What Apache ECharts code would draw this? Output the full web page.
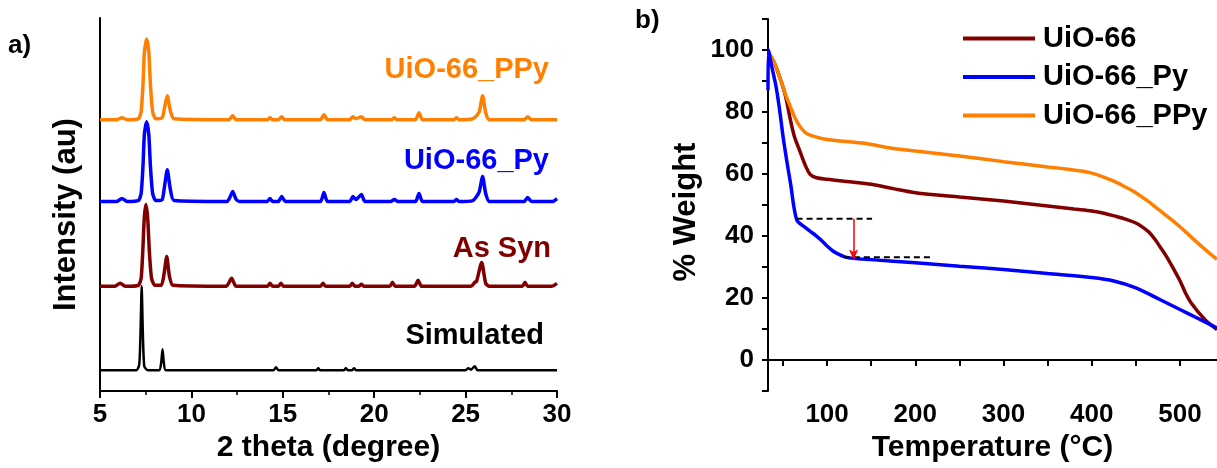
<!DOCTYPE html>
<html><head><meta charset="utf-8">
<script src="https://cdn.jsdelivr.net/npm/echarts@6/dist/echarts.min.js"></script>
<style>html,body{margin:0;padding:0;background:#fff}#c{width:1217px;height:468px}</style>
</head><body><div id="c"></div>
<script>
// ---------- Panel a: XRD (2theta, relative intensity a.u.) ----------
const xrdTicks = [5, 10, 15, 20, 25, 30];
const xrdSimulated = [[5,0],[7.0,0],[7.15,6],[7.22,40],[7.28,84],[7.34,40],[7.42,4],[7.6,0],[8.25,0],[8.35,8],[8.42,21],[8.49,8],[8.6,0],[14.5,0],[14.63,3],[14.76,0],[16.85,0],[16.94,2],[17.03,0],[18.35,0],[18.45,2],[18.55,0],[18.8,0],[18.9,2],[19.0,0],[25.0,0],[25.15,2],[25.3,0.5],[25.5,4],[25.65,0],[30,0]];
const xrdAsSyn = [[5,0],[5.8,0],[6.1,3],[6.4,0],[7.1,1],[7.25,8],[7.34,35],[7.42,68],[7.51,82],[7.61,68],[7.7,35],[7.82,8],[8.0,1],[8.35,1],[8.5,12],[8.65,30],[8.8,10],[9.0,1],[11.9,0],[12.2,8],[12.45,0],[14.15,0],[14.3,3],[14.45,0],[14.75,0],[14.9,3],[15.05,0],[17.05,0],[17.2,3],[17.35,0],[18.65,0],[18.8,3],[18.95,0],[19.15,0],[19.3,2],[19.45,0],[20.85,0],[21.0,4],[21.15,0],[22.2,0],[22.4,6],[22.6,0],[25.3,0],[25.5,4],[25.6,5],[25.88,24],[26.1,3],[26.3,0],[28.1,0],[28.25,4],[28.4,0],[29.7,0],[30,3]];
const xrdPy = [[5,0],[5.9,0],[6.2,3],[6.5,0],[7.1,1],[7.25,8],[7.35,35],[7.43,68],[7.55,80],[7.67,67],[7.76,35],[7.88,8],[8.05,1],[8.4,2],[8.55,18],[8.68,32],[8.85,12],[9.05,1],[11.95,0],[12.1,4],[12.26,10],[12.45,2],[12.65,0],[14.15,0],[14.3,3],[14.45,0],[14.75,0],[14.94,5],[15.15,0],[17.05,0],[17.25,9],[17.45,0],[18.65,0],[18.84,5],[19.0,2],[19.3,7],[19.5,0],[20.9,0],[21.1,2],[21.3,0],[22.25,0],[22.45,8],[22.65,0],[24.35,0],[24.5,2],[24.65,0],[25.4,1],[25.6,5],[25.75,10],[25.93,25],[26.1,8],[26.3,0],[28.2,0],[28.4,4],[28.6,0],[29.75,0],[30,3]];
const xrdPPy = [[5,0],[5.9,0],[6.2,2],[6.5,0],[7.1,1],[7.25,8],[7.35,35],[7.43,68],[7.55,81],[7.67,68],[7.76,35],[7.88,8],[8.05,1],[8.4,2],[8.55,14],[8.68,24],[8.85,9],[9.05,1],[12.05,0],[12.26,4],[12.45,0],[14.15,0],[14.3,2],[14.45,0],[14.75,0],[14.94,3],[15.1,0],[17.05,0],[17.25,5],[17.45,0],[18.65,0],[18.84,3],[19.0,1],[19.3,3],[19.5,0],[20.95,0],[21.1,2],[21.25,0],[22.25,0],[22.45,7],[22.65,0],[24.35,0],[24.5,2],[24.65,0],[25.4,1],[25.6,4],[25.75,8],[25.93,24],[26.1,7],[26.3,0],[28.2,0],[28.4,3],[28.6,0],[30,0]];
// vertical stacking offsets (a.u.)
const offSimulated = 21, offAsSyn = 105, offPy = 190, offPPy = 272;

// ---------- Panel b: TGA (temperature degC, % weight) ----------
const tgaTempLabels = [100, 200, 300, 400, 500];
const tgaTempTicks = [50, 100, 150, 200, 250, 300, 350, 400, 450, 500];
const tgaUiO66 = [[33,99.3],[40,96],[48,89.8],[53,85],[58,78],[63,72],[69,67.5],[75,63],[81,59.8],[88,58.8],[100,58.3],[125,57.5],[150,56.7],[175,55.3],[200,54],[250,52.6],[300,51.3],[350,49.7],[380,48.7],[400,48.1],[415,47.3],[428,46.3],[440,45.3],[450,44.2],[458,42.8],[465,41.2],[472,38.8],[478,36.3],[485,33.3],[492,29.8],[500,25.6],[506,21.8],[511,19.2],[516,17.2],[521,15.4],[530,12.6],[542,9.8]];
const tgaPy = [[33,87],[33.5,100],[37,95],[42,88.4],[46,81],[50.5,71.2],[55,63],[59,56.1],[62,50],[64.3,46.5],[66,45],[69,44.1],[75,42.8],[81,41.5],[88,40],[94,38.5],[100,36.8],[107,35.1],[114,34],[120,33.3],[130,32.8],[150,32.4],[200,31.4],[250,30.3],[300,29.2],[350,27.9],[400,26.6],[425,25.5],[450,23.3],[476,19.7],[500,16.3],[520,13.5],[542,10.4]];
const tgaPPy = [[33,99.3],[40,96],[48.5,89.4],[53,85.5],[58,82],[63,78.5],[69,75.4],[76,73.2],[84,72.2],[95,71.4],[107,70.9],[125,70.4],[145,69.8],[170,68.5],[200,67.4],[250,65.8],[300,64],[350,62.3],[375,61.5],[390,60.9],[400,60.3],[412,59.2],[425,57.7],[437,56],[450,54],[463,51.4],[476,48.5],[490,45.4],[500,43],[510,40.4],[520,37.8],[530,35.3],[542,32.5]];
// annotation: weight-loss step on UiO-66_Py
const stepUpper = [[65.4,45.6],[151,45.6]];
const stepLower = [[119,33.2],[217,33.2]];
const stepArrow = [[130,45.6],[130,32.4]];

const FONT = '"Liberation Sans", Arial, sans-serif';
const C_ORANGE = '#FF8000', C_BLUE = '#0000FF', C_WINE = '#800000', C_BLACK = '#000000';
const shift = (arr, off) => arr.map(p => [p[0], p[1] + off]);

const axisBase = {
  axisLine: {show: true, lineStyle: {color: '#000', width: 2}},
  splitLine: {show: false},
  axisLabel: {color: '#000', fontSize: 26, fontWeight: 'bold', fontFamily: FONT},
  nameTextStyle: {color: '#000', fontSize: 30, fontWeight: 'bold', fontFamily: FONT},
  nameLocation: 'middle'
};
const yNameStyle = {color: '#000', fontSize: 31, fontWeight: 'bold', fontFamily: FONT};

const chart = echarts.init(document.getElementById('c'), null, {renderer: 'canvas'});
chart.setOption({
  animation: false,
  backgroundColor: '#fff',
  textStyle: {fontFamily: FONT},
  grid: [
    {left: 100, top: 18, width: 457, height: 374},
    {left: 768, top: 19, width: 449, height: 373}
  ],
  xAxis: [
    Object.assign({}, axisBase, {
      gridIndex: 0, type: 'value', min: xrdTicks[0], max: xrdTicks[xrdTicks.length-1], interval: 5,
      axisTick: {show: true, length: 7, lineStyle: {color: '#000', width: 2}},
      minorTick: {show: true, splitNumber: 2, length: 4, lineStyle: {color: '#000', width: 1.5}},
      minorSplitLine: {show: false},
      axisLabel: Object.assign({}, axisBase.axisLabel, {margin: 11}),
      name: '2 theta (degree)', nameGap: 33
    }),
    Object.assign({}, axisBase, {
      gridIndex: 1, type: 'value', min: 33, max: 542,
      axisTick: {show: true, length: 6, lineStyle: {color: '#000', width: 2}, customValues: tgaTempTicks},
      axisLabel: Object.assign({}, axisBase.axisLabel, {margin: 11, customValues: tgaTempLabels}),
      name: 'Temperature (\u00B0C)', nameGap: 33
    })
  ],
  yAxis: [
    Object.assign({}, axisBase, {
      gridIndex: 0, type: 'value', min: 0, max: 374,
      axisTick: {show: false}, axisLabel: {show: false},
      name: 'Intensity (au)', nameGap: 18,
      nameTextStyle: Object.assign({}, yNameStyle, {padding: [0, 20, 0, 0]})
    }),
    Object.assign({}, axisBase, {
      gridIndex: 1, type: 'value', min: -10, max: 110, interval: 10,
      axisTick: {show: true, length: 6, lineStyle: {color: '#000', width: 2}},
      axisLabel: Object.assign({}, axisBase.axisLabel, {margin: 14,
        formatter: v => (v % 20 === 0 && v >= 0 && v <= 100) ? String(v) : ''}),
      name: '% Weight', nameGap: 66,
      nameTextStyle: Object.assign({}, yNameStyle, {padding: [0, 14, 0, 0]})
    })
  ],
  legend: {
    data: ['UiO-66', 'UiO-66_Py', 'UiO-66_PPy'],
    orient: 'vertical', left: 963, top: 24, padding: 0,
    icon: 'rect', itemWidth: 72, itemHeight: 4, itemGap: 9.5,
    textStyle: {color: '#000', fontSize: 29, fontWeight: 'bold', fontFamily: FONT, padding: [0,0,0,3]}
  },
  graphic: [
    {type: 'text', x: 8, y: 46, style: {text: 'a)', fill: '#000', font: 'bold 26px ' + FONT, align: 'left', verticalAlign: 'middle'}},
    {type: 'text', x: 635, y: 21, style: {text: 'b)', fill: '#000', font: 'bold 26px ' + FONT, align: 'left', verticalAlign: 'middle'}},
    {type: 'text', x: 549, y: 70, style: {text: 'UiO-66_PPy', fill: C_ORANGE, font: 'bold 29px ' + FONT, align: 'right', verticalAlign: 'middle'}},
    {type: 'text', x: 549, y: 161, style: {text: 'UiO-66_Py', fill: C_BLUE, font: 'bold 29px ' + FONT, align: 'right', verticalAlign: 'middle'}},
    {type: 'text', x: 551, y: 249, style: {text: 'As Syn', fill: C_WINE, font: 'bold 29px ' + FONT, align: 'right', verticalAlign: 'middle'}},
    {type: 'text', x: 544, y: 336, style: {text: 'Simulated', fill: C_BLACK, font: 'bold 29px ' + FONT, align: 'right', verticalAlign: 'middle'}}
  ],
  series: [
    {name: 'XRD Simulated', type: 'line', xAxisIndex: 0, yAxisIndex: 0, data: shift(xrdSimulated, offSimulated), symbol: 'none', smooth: 0.2, lineStyle: {color: C_BLACK, width: 2.5}, itemStyle: {color: C_BLACK}},
    {name: 'XRD As Syn', type: 'line', xAxisIndex: 0, yAxisIndex: 0, data: shift(xrdAsSyn, offAsSyn), symbol: 'none', smooth: 0.2, lineStyle: {color: C_WINE, width: 3.5}, itemStyle: {color: C_WINE}},
    {name: 'XRD UiO-66_Py', type: 'line', xAxisIndex: 0, yAxisIndex: 0, data: shift(xrdPy, offPy), symbol: 'none', smooth: 0.2, lineStyle: {color: C_BLUE, width: 3.5}, itemStyle: {color: C_BLUE}},
    {name: 'XRD UiO-66_PPy', type: 'line', xAxisIndex: 0, yAxisIndex: 0, data: shift(xrdPPy, offPPy), symbol: 'none', smooth: 0.2, lineStyle: {color: C_ORANGE, width: 3.5}, itemStyle: {color: C_ORANGE}},
    {name: 'UiO-66', type: 'line', xAxisIndex: 1, yAxisIndex: 1, data: tgaUiO66, symbol: 'none', smooth: 0.3, lineStyle: {color: C_WINE, width: 3.5}, itemStyle: {color: C_WINE}},
    {name: 'UiO-66_PPy', type: 'line', xAxisIndex: 1, yAxisIndex: 1, data: tgaPPy, symbol: 'none', smooth: 0.3, lineStyle: {color: C_ORANGE, width: 3.5}, itemStyle: {color: C_ORANGE}},
    {name: 'UiO-66_Py', type: 'line', xAxisIndex: 1, yAxisIndex: 1, data: tgaPy, symbol: 'none', smooth: 0.3, lineStyle: {color: C_BLUE, width: 3.5}, itemStyle: {color: C_BLUE}},
    {name: 'step upper', type: 'line', xAxisIndex: 1, yAxisIndex: 1, data: stepUpper, symbol: 'none', lineStyle: {color: '#000', width: 2, type: [6, 4]}},
    {name: 'step lower', type: 'line', xAxisIndex: 1, yAxisIndex: 1, data: stepLower, symbol: 'none', lineStyle: {color: '#000', width: 2, type: [6, 4]},
      markLine: {silent: true, symbol: ['none', 'arrow'], symbolSize: [7, 10], animation: false,
        label: {show: false}, lineStyle: {color: '#FF0000', width: 1.5, type: 'solid'},
        data: [[{coord: stepArrow[0]}, {coord: stepArrow[1]}]]}}
  ]
});
</script>
</body></html>
